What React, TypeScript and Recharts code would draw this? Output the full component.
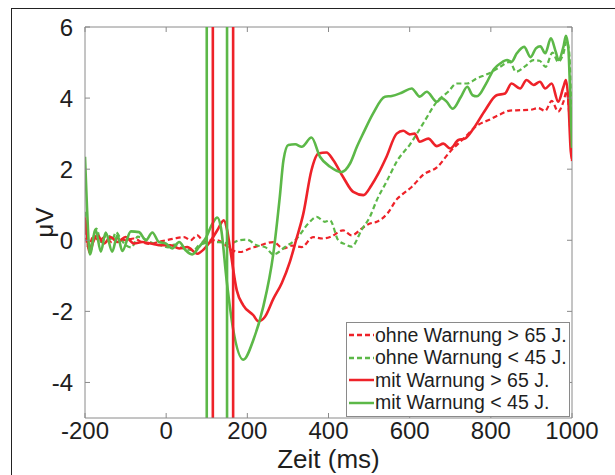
import { LineChart, Line, XAxis, YAxis, ReferenceLine, Legend } from "recharts";

const RED = "#ee2229";
const GREEN = "#5cb848";
const AXIS = "#8a8a8a";
const INK = "#1e1e1e";
const FONT = '"Liberation Sans", Arial, sans-serif';

// plot box in page pixels (chart sits at 0,0)
const PLOT_LEFT = 85;
const PLOT_RIGHT = 572;
const PLOT_TOP = 27;
const PLOT_BOTTOM = 418;

const xTicks = [-200, 0, 200, 400, 600, 800, 1000];
const yTicks = [-4, -2, 0, 2, 4, 6];
const greenMarkers = [100, 150];
const redMarkers = [115, 165];

// ohne Warnung > 65 J. (red dashed)
const ohne65T = [-200, -192, -180, -165, -150, -135, -120, -100, -80, -60, -40, -20, 0, 20, 44, 60, 77, 93, 110, 126, 145, 157, 182, 207, 230, 264, 289, 310, 334, 362, 385, 404, 436, 457, 484, 502, 519, 547, 568, 584, 605, 634, 667, 700, 732, 765, 798, 823, 847, 872, 897, 917, 934, 950, 966, 979, 987, 994, 1000];
const ohne65V = [0.3, -0.2, 0.1, 0.0, 0.1, -0.05, 0.05, 0.0, 0.05, -0.05, -0.1, -0.05, 0.0, 0.05, 0.09, 0.0, 0.14, -0.05, 0.0, 0.0, -0.12, -0.25, -0.33, -0.23, -0.15, -0.05, -0.23, -0.15, -0.19, 0.09, 0.05, 0.09, 0.28, 0.14, 0.35, 0.47, 0.52, 0.78, 1.15, 1.31, 1.5, 1.85, 2.05, 2.5, 2.85, 3.22, 3.4, 3.54, 3.65, 3.66, 3.67, 3.72, 3.64, 3.92, 3.62, 3.9, 4.2, 3.4, 2.2];

// ohne Warnung < 45 J. (green dashed)
const ohne45T = [-200, -190, -180, -172, -160, -145, -133, -124, -110, -99, -85, -70, -55, -40, -25, -10, 5, 20, 35, 50, 68, 80, 93, 110, 130, 157, 180, 198, 223, 245, 264, 293, 322, 350, 371, 391, 404, 424, 441, 457, 482, 502, 519, 543, 570, 601, 634, 667, 695, 716, 741, 765, 798, 823, 847, 862, 885, 905, 920, 935, 952, 966, 979, 987, 993, 1000];
const ohne45V = [0.8, -0.25, 0.05, 0.33, -0.05, 0.2, 0.0, 0.23, 0.0, -0.14, -0.2, 0.1, 0.05, -0.05, -0.12, -0.15, -0.2, -0.12, -0.2, -0.25, -0.28, -0.15, -0.09, -0.05, -0.05, -0.09, 0.0, 0.02, -0.14, -0.2, -0.4, -0.19, 0.05, 0.47, 0.66, 0.52, 0.56, 0.0, -0.11, -0.18, 0.3, 0.66, 1.13, 1.65, 2.25, 2.7, 3.3, 3.9, 4.18, 4.41, 4.41, 4.55, 4.71, 4.88, 5.02, 4.74, 4.9, 5.07, 5.05, 4.88, 5.28, 5.02, 5.26, 5.6, 5.3, 2.6];

// mit Warnung > 65 J. (red solid)
const mit65T = [-200, -195, -189, -180, -170, -153, -137, -120, -100, -79, -59, -38, -13, 11, 32, 52, 77, 85, 105, 126, 142, 150, 157, 174, 190, 215, 227, 243, 264, 285, 305, 320, 338, 358, 375, 395, 412, 436, 461, 486, 506, 523, 543, 568, 584, 600, 612, 625, 646, 667, 683, 700, 720, 736, 757, 786, 814, 835, 851, 872, 888, 905, 921, 934, 950, 966, 979, 985, 991, 997, 1000];
const mit65V = [0.65, 0.1, -0.35, -0.05, 0.14, -0.09, 0.09, -0.05, 0.09, -0.09, -0.05, -0.09, -0.14, -0.14, -0.23, -0.19, -0.38, -0.33, -0.09, 0.28, 0.56, 0.3, -0.19, -1.41, -1.83, -2.11, -2.28, -2.16, -1.65, -1.2, -0.6, 0.0, 0.75, 1.97, 2.44, 2.47, 2.25, 1.78, 1.36, 1.27, 1.55, 1.88, 2.35, 3.0, 3.08, 2.98, 3.0, 2.77, 2.86, 2.65, 2.72, 2.58, 2.82, 2.86, 3.14, 3.66, 4.08, 4.13, 4.41, 4.27, 4.51, 4.37, 4.46, 4.27, 4.41, 3.9, 4.32, 4.51, 3.94, 2.5, 2.3];

// mit Warnung < 45 J. (green solid)
const mit45T = [-200, -195, -188, -174, -161, -149, -133, -120, -108, -87, -67, -50, -34, -18, -1, 15, 32, 48, 64, 81, 97, 114, 126, 135, 149, 165, 190, 215, 239, 264, 280, 289, 301, 318, 334, 358, 379, 404, 432, 453, 470, 486, 510, 539, 556, 580, 605, 625, 642, 667, 679, 691, 706, 726, 742, 755, 766, 788, 808, 824, 840, 851, 864, 882, 898, 911, 922, 934, 948, 960, 967, 979, 985, 991, 995, 1000];
const mit45V = [2.35, 0.9, -0.4, 0.3, -0.32, 0.22, -0.32, 0.14, -0.3, 0.25, 0.23, 0.0, 0.22, -0.05, -0.09, -0.23, -0.05, -0.28, -0.4, -0.19, 0.05, 0.47, 0.64, 0.35, -1.13, -2.5, -3.36, -2.8, -1.88, -0.38, 1.22, 2.25, 2.68, 2.7, 2.63, 2.89, 2.35, 2.07, 1.92, 2.16, 2.63, 3.02, 3.57, 4.04, 4.06, 4.15, 4.27, 4.04, 4.18, 3.9, 4.0, 3.9, 3.7, 4.03, 4.32, 4.08, 4.05, 4.4, 4.82, 4.98, 5.07, 5.02, 5.26, 5.44, 5.15, 5.4, 5.46, 5.26, 5.68, 5.3, 5.07, 5.45, 5.75, 5.4, 4.3, 2.6];

const series = [
  { name: "ohne Warnung > 65 J.", t: ohne65T, v: ohne65V, color: RED, dashed: true },
  { name: "ohne Warnung < 45 J.", t: ohne45T, v: ohne45V, color: GREEN, dashed: true },
  { name: "mit Warnung > 65 J.", t: mit65T, v: mit65V, color: RED, dashed: false },
  { name: "mit Warnung < 45 J.", t: mit45T, v: mit45V, color: GREEN, dashed: false },
];

const toPoints = (t: number[], v: number[]) => t.map((time, i) => ({ t: time, v: v[i] }));

function XTick({ x, y, payload }: any) {
  return (
    <g>
      <line x1={x} x2={x} y1={PLOT_BOTTOM} y2={PLOT_BOTTOM - 5} stroke={AXIS} />
      <line x1={x} x2={x} y1={PLOT_TOP} y2={PLOT_TOP + 5} stroke={AXIS} />
      <text x={x} y={y} dy="0.71em" textAnchor="middle" fill={INK} fontSize={24} fontFamily={FONT}>
        {payload.value}
      </text>
    </g>
  );
}

function YTick({ x, y, payload }: any) {
  return (
    <g>
      <line x1={PLOT_LEFT} x2={PLOT_LEFT + 5} y1={y} y2={y} stroke={AXIS} />
      <line x1={PLOT_RIGHT} x2={PLOT_RIGHT - 5} y1={y} y2={y} stroke={AXIS} />
      <text x={x} y={y} dy="0.355em" textAnchor="end" fill={INK} fontSize={24} fontFamily={FONT}>
        {payload.value}
      </text>
    </g>
  );
}

function LegendBox() {
  return (
    <div
      style={{
        width: 224,
        height: 95,
        boxSizing: "border-box",
        border: `1px solid ${AXIS}`,
        background: "#fff",
        paddingTop: 1,
        paddingLeft: 2,
        fontFamily: FONT,
        fontSize: 19.5,
        color: INK,
      }}
    >
      {series.map((s) => (
        <div key={s.name} style={{ display: "flex", alignItems: "center", height: 22.5, whiteSpace: "nowrap" }}>
          <svg width={25} height={6} style={{ marginRight: 1 }}>
            <line x1={0} x2={25} y1={3} y2={3} stroke={s.color} strokeWidth={2.5} strokeDasharray={s.dashed ? "5 3" : undefined} />
          </svg>
          <span>{s.name}</span>
        </div>
      ))}
    </div>
  );
}

export default function App() {
  return (
    <div style={{ position: "fixed", left: 0, top: 0, width: 615, height: 475, background: "#fff", overflow: "hidden" }}>
      <div
        style={{
          position: "absolute",
          left: 11,
          top: 8,
          right: 0,
          bottom: 0,
          borderTop: "1.5px solid #222",
          borderLeft: "1.5px solid #222",
        }}
      />
      <div style={{ position: "absolute", left: 0, top: 0 }}>
        <LineChart width={615} height={475} margin={{ top: PLOT_TOP, right: 615 - PLOT_RIGHT, bottom: 0, left: 0 }}>
          <XAxis
            dataKey="t"
            type="number"
            domain={[-200, 1000]}
            ticks={xTicks}
            interval={0}
            allowDataOverflow
            height={475 - PLOT_BOTTOM}
            stroke={AXIS}
            tickLine={false}
            tickSize={0}
            tickMargin={4}
            tick={<XTick />}
            label={{ value: "Zeit (ms)", position: "insideBottom", offset: 7, fill: INK, fontSize: 26, fontFamily: FONT }}
          />
          <YAxis
            type="number"
            domain={[-5, 6]}
            ticks={yTicks}
            interval={0}
            allowDataOverflow
            width={PLOT_LEFT}
            stroke={AXIS}
            tickLine={false}
            tickSize={0}
            tickMargin={12}
            tick={<YTick />}
            label={{
              value: "μV",
              angle: -90,
              position: "insideLeft",
              offset: 44,
              fill: INK,
              fontSize: 24,
              fontFamily: FONT,
              style: { textAnchor: "middle" },
            }}
          />
          <ReferenceLine y={6} stroke={AXIS} />
          <ReferenceLine x={1000} stroke={AXIS} />
          {series.map((s) => (
            <Line
              key={s.name}
              data={toPoints(s.t, s.v)}
              dataKey="v"
              name={s.name}
              type="monotone"
              stroke={s.color}
              strokeWidth={s.dashed ? 2.2 : 2.6}
              strokeDasharray={s.dashed ? "5 3" : undefined}
              dot={false}
              activeDot={false}
              isAnimationActive={false}
            />
          ))}
          {greenMarkers.map((m) => (
            <ReferenceLine key={`g${m}`} x={m} stroke={GREEN} strokeWidth={2.6} />
          ))}
          {redMarkers.map((m) => (
            <ReferenceLine key={`r${m}`} x={m} stroke={RED} strokeWidth={2.6} />
          ))}
          <Legend
            content={<LegendBox />}
            layout="horizontal"
            verticalAlign="middle"
            align="center"
            wrapperStyle={{ left: 346, top: 322, width: 224, height: 95 }}
          />
        </LineChart>
      </div>
    </div>
  );
}
